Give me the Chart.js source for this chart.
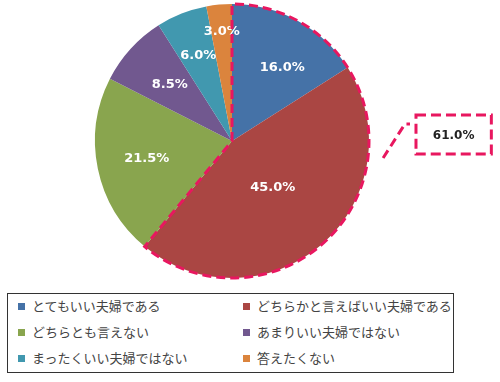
<!DOCTYPE html>
<html>
<head>
<meta charset="utf-8">
<script src="https://cdn.jsdelivr.net/npm/chart.js@4/dist/chart.umd.min.js"></script>
<style>
  html, body { margin: 0; padding: 0; background: #fff; }
  #wrap { position: relative; width: 500px; height: 382px; }
  #c { position: absolute; left: 0; top: 0; }
  #legend {
    position: absolute; left: 7px; top: 293px; width: 445px; height: 78px;
    border: 1px solid #333; background: #fff; box-sizing: content-box;
    font-family: "Noto Sans CJK JP", "Noto Sans", sans-serif; font-size: 13px; color: #444;
  }
  .li { position: absolute; height: 18px; line-height: 18px; white-space: nowrap; }
  .sw { display: inline-block; width: 7px; height: 7px; margin-right: 7px; vertical-align: middle; position: relative; top: -1px; }
</style>
</head>
<body>
<div id="wrap">
  <canvas id="c" width="500" height="382"></canvas>
  <div id="legend"></div>
</div>
<script>
const categories = ["とてもいい夫婦である", "どちらかと言えばいい夫婦である", "どちらとも言えない", "あまりいい夫婦ではない", "まったくいい夫婦ではない", "答えたくない"];
const values = [16.0, 45.0, 21.5, 8.5, 6.0, 3.0];
const highlightCount = 2;            // first two slices are grouped
const highlightLabel = "61.0%";
const colors = ["#4572A7", "#AA4643", "#89A54E", "#71588F", "#4198AF", "#DB843D"];
// label placement (style): fraction of radius and angular shift in degrees
const labelRadius = [0.65, 0.45, 0.635, 0.615, 0.67, 0.80];
const labelShift = [5.5, 0, 0, 0, 0, 0];

const overlay = {
  id: 'overlay',
  afterDatasetsDraw(chart) {
    const ctx = chart.ctx;
    const arcs = chart.getDatasetMeta(0).data;
    const p0 = arcs[0].getProps(['x', 'y', 'outerRadius', 'startAngle'], true);
    const cx = p0.x, cy = p0.y, R = p0.outerRadius;
    // labels
    ctx.save();
    ctx.font = 'bold 13px "DejaVu Sans", sans-serif';
    ctx.fillStyle = '#fff';
    ctx.textAlign = 'center';
    ctx.textBaseline = 'middle';
    arcs.forEach((a, i) => {
      const p = a.getProps(['startAngle', 'endAngle'], true);
      const mid = (p.startAngle + p.endAngle) / 2 + labelShift[i] * Math.PI / 180;
      const r = R * labelRadius[i];
      ctx.fillText(values[i].toFixed(1) + '%', cx + Math.cos(mid) * r, cy + Math.sin(mid) * r);
    });
    ctx.restore();
    // dashed outline of grouped slices
    const s = p0.startAngle;
    const e = arcs[highlightCount - 1].getProps(['endAngle'], true).endAngle;
    ctx.save();
    ctx.strokeStyle = '#E8175F';
    ctx.lineWidth = 3;
    ctx.setLineDash([9, 5]);
    ctx.beginPath();
    ctx.moveTo(cx, cy);
    ctx.lineTo(cx + Math.cos(s) * R, cy + Math.sin(s) * R);
    ctx.arc(cx, cy, R, s, e);
    ctx.closePath();
    ctx.stroke();
    // callout
    const a0 = 0.112;
    const sx = cx + Math.cos(a0) * R * 1.11, sy = cy + Math.sin(a0) * R * 1.11;
    const bx = cx + R * 1.343, by = cy - R * 0.19, bw = R * 0.55, bh = R * 0.285;
    ctx.beginPath();
    ctx.moveTo(sx, sy);
    ctx.lineTo(bx - 11, cy - R * 0.125);
    ctx.lineTo(bx - 6, cy - R * 0.125);
    ctx.stroke();
    ctx.setLineDash([10, 5]);
    ctx.strokeRect(bx, by, bw, bh);
    ctx.setLineDash([]);
    ctx.fillStyle = '#222';
    ctx.font = 'bold 12px "DejaVu Sans", sans-serif';
    ctx.textAlign = 'center';
    ctx.textBaseline = 'middle';
    ctx.fillText(highlightLabel, bx + bw / 2, by + bh / 2 + 1);
    ctx.restore();
  }
};

const chart = new Chart(document.getElementById('c'), {
  type: 'pie',
  data: {
    labels: categories,
    datasets: [{ data: values, backgroundColor: colors, borderWidth: 0 }]
  },
  options: {
    responsive: false,
    animation: false,
    layout: { padding: { left: 95, right: 131, top: 4, bottom: 104 } },
    plugins: { legend: { display: false }, tooltip: { enabled: false } }
  },
  plugins: [overlay]
});

// HTML legend from chart data
const leg = document.getElementById('legend');
chart.data.labels.forEach((lab, i) => {
  const col = i % 2, row = Math.floor(i / 2);
  const d = document.createElement('div');
  d.className = 'li';
  d.style.left = (col ? 235 : 10) + 'px';
  d.style.top = (3 + row * 26) + 'px';
  const sw = document.createElement('span');
  sw.className = 'sw';
  sw.style.background = chart.data.datasets[0].backgroundColor[i];
  d.appendChild(sw);
  d.appendChild(document.createTextNode(lab));
  leg.appendChild(d);
});
</script>
</body>
</html>
